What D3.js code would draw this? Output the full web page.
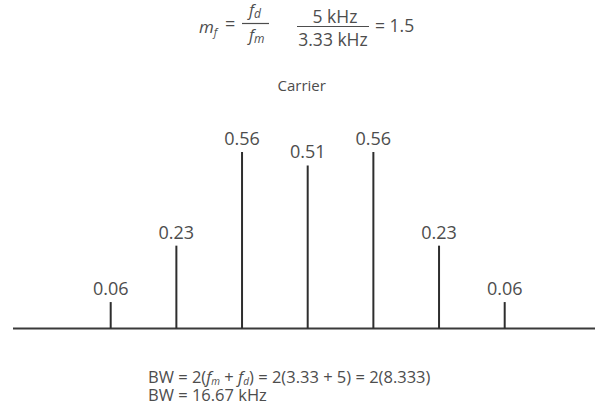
<!DOCTYPE html>
<html>
<head>
<meta charset="utf-8">
<script src="https://cdn.jsdelivr.net/npm/d3@7"></script>
<style>
  body { margin: 0; background: #fff; }
  text { font-family: "Open Sans", "Noto Sans", sans-serif; fill: #4d4d4d; }
</style>
</head>
<body>
<script>
/* spectrum data: sideband order and relative amplitude */
var orders = [-3, -2, -1, 0, 1, 2, 3];
var amplitudes = [0.06, 0.23, 0.56, 0.51, 0.56, 0.23, 0.06];
var ampLabels = ["0.06", "0.23", "0.56", "0.51", "0.56", "0.23", "0.06"];

var width = 595, height = 404;
var baseY = 328.5;

var svg = d3.select("body").append("svg")
    .attr("width", width)
    .attr("height", height);

/* scales - the drawing is not strictly proportional, a mild power curve fits it */
var x = d3.scaleLinear().domain([-3, 3]).range([110.7, 504.7]);
var y = d3.scalePow().exponent(0.85).domain([0, 0.56]).range([baseY, 152]);

/* formula at top */
var formula = svg.append("g");
var mf = formula.append("text").attr("x", 199).attr("y", 33).attr("font-size", 17);
mf.append("tspan").attr("font-style", "italic").text("m");
mf.append("tspan").attr("font-style", "italic").attr("font-size", 11).attr("dy", 3).text("f");
formula.append("text").attr("x", 225).attr("y", 30).attr("font-size", 18).text("=");

var fd = formula.append("text").attr("x", 249).attr("y", 16).attr("font-size", 16);
fd.append("tspan").attr("font-style", "italic").text("f");
fd.append("tspan").attr("font-style", "italic").attr("font-size", 12).attr("dy", 2).text("d");
var fm = formula.append("text").attr("x", 249).attr("y", 41).attr("font-size", 16);
fm.append("tspan").attr("font-style", "italic").text("f");
fm.append("tspan").attr("font-style", "italic").attr("font-size", 12).attr("dy", 2).text("m");
formula.append("line").attr("x1", 242).attr("x2", 269).attr("y1", 23.5).attr("y2", 23.5)
    .attr("stroke", "#4d4d4d").attr("stroke-width", 1.2);

formula.append("text").attr("x", 335).attr("y", 22.5).attr("font-size", 17.5)
    .attr("text-anchor", "middle").text("5 kHz");
formula.append("text").attr("x", 333).attr("y", 46).attr("font-size", 17.5)
    .attr("text-anchor", "middle").text("3.33 kHz");
formula.append("line").attr("x1", 297).attr("x2", 369).attr("y1", 26.5).attr("y2", 26.5)
    .attr("stroke", "#4d4d4d").attr("stroke-width", 1.2);
formula.append("text").attr("x", 375).attr("y", 32).attr("font-size", 17.5).text("= 1.5");

/* carrier label */
svg.append("text")
    .attr("x", x(0) - 6)
    .attr("y", 91)
    .attr("text-anchor", "middle")
    .attr("font-size", 15)
    .text("Carrier");

/* baseline */
svg.append("line")
    .attr("x1", 13).attr("x2", width)
    .attr("y1", baseY).attr("y2", baseY)
    .attr("stroke", "#3a3a3a")
    .attr("stroke-width", 2);

/* spectral lines */
svg.selectAll(".spike")
    .data(amplitudes)
    .enter().append("line")
    .attr("class", "spike")
    .attr("x1", function(d, i) { return x(orders[i]); })
    .attr("x2", function(d, i) { return x(orders[i]); })
    .attr("y1", baseY)
    .attr("y2", function(d) { return y(d); })
    .attr("stroke", "#2e2e2e")
    .attr("stroke-width", 2);

svg.selectAll(".amp")
    .data(amplitudes)
    .enter().append("text")
    .attr("class", "amp")
    .attr("x", function(d, i) { return x(orders[i]); })
    .attr("y", function(d) { return y(d) - 7; })
    .attr("text-anchor", "middle")
    .attr("font-size", 18)
    .text(function(d, i) { return ampLabels[i]; });

/* bandwidth equations */
var bw1 = svg.append("text").attr("x", 148).attr("y", 383).attr("font-size", 16.5);
bw1.append("tspan").text("BW = 2(");
bw1.append("tspan").attr("font-style", "italic").text("f");
bw1.append("tspan").attr("font-style", "italic").attr("font-size", 10).attr("dy", 1.5).text("m");
bw1.append("tspan").attr("dy", -1.5).text(" + ");
bw1.append("tspan").attr("font-style", "italic").text("f");
bw1.append("tspan").attr("font-style", "italic").attr("font-size", 10).attr("dy", 1.5).text("d");
bw1.append("tspan").attr("dy", -1.5).text(") = 2(3.33 + 5) = 2(8.333)");

svg.append("text").attr("x", 148).attr("y", 400.5).attr("font-size", 16.5)
    .text("BW = 16.67 kHz");
</script>
</body>
</html>
